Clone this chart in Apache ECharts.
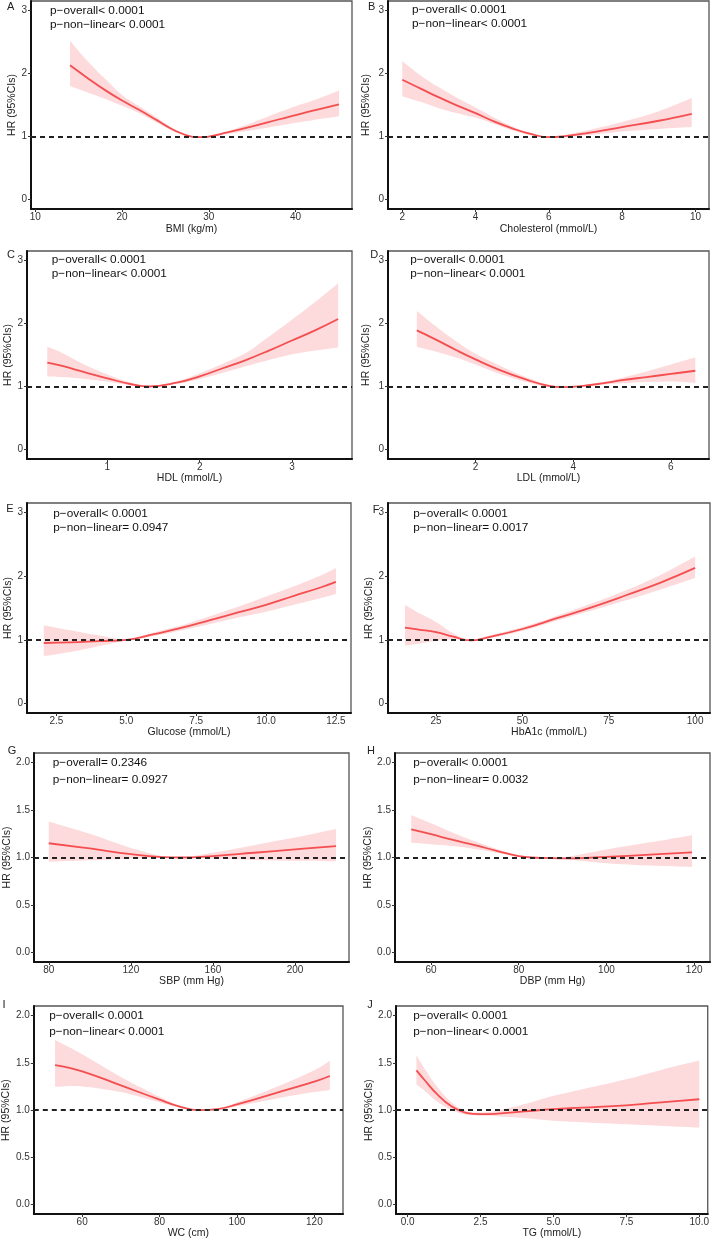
<!DOCTYPE html>
<html><head><meta charset="utf-8">
<script src="https://cdn.jsdelivr.net/npm/echarts@6/dist/echarts.min.js"></script>
<style>html,body{margin:0;padding:0;background:#fff}#c{width:712px;height:1240px}</style>
</head><body><div id="c"></div>
<script>
// ---------- DATA ----------
const panelLetters = ['A','B','C','D','E','F','G','H','I','J'];
const xTitles = ['BMI (kg/m)','Cholesterol (mmol/L)','HDL (mmol/L)','LDL (mmol/L)','Glucose (mmol/L)','HbA1c (mmol/L)','SBP (mm Hg)','DBP (mm Hg)','WC (cm)','TG (mmol/L)'];
const yTitle = 'HR (95%CIs)';
const pOverall = ['p−overall< 0.0001','p−overall< 0.0001','p−overall< 0.0001','p−overall< 0.0001','p−overall< 0.0001','p−overall< 0.0001','p−overall= 0.2346','p−overall< 0.0001','p−overall< 0.0001','p−overall< 0.0001'];
const pNonLinear = ['p−non−linear< 0.0001','p−non−linear< 0.0001','p−non−linear< 0.0001','p−non−linear< 0.0001','p−non−linear= 0.0947','p−non−linear= 0.0017','p−non−linear= 0.0927','p−non−linear= 0.0032','p−non−linear< 0.0001','p−non−linear< 0.0001'];
const xTicks = [[10,20,30,40],[2,4,6,8,10],[1,2,3],[2,4,6],[2.5,5,7.5,10,12.5],[25,50,75,100],[80,120,160,200],[60,80,100,120],[60,80,100,120],[0,2.5,5,7.5,10]];
const xTickDecimals = [0,0,0,0,1,0,0,0,0,1];
const yTicksWide = [0,1,2,3];
const yTicksNarrow = [0,0.5,1,1.5,2];
const refHR = 1;

// A: BMI
const xA  = [14, 16, 18, 20, 22, 24, 26, 28, 29, 30, 32, 35, 38, 40, 42, 45];
const hrA = [2.13,1.93,1.74,1.57,1.42,1.26,1.10,1.00,0.99,1.00,1.06,1.16,1.27,1.34,1.41,1.51];
const loA = [1.80,1.70,1.60,1.49,1.37,1.22,1.08,0.99,0.98,0.99,1.04,1.10,1.17,1.22,1.26,1.32];
const hiA = [2.52,2.20,1.92,1.66,1.48,1.30,1.12,1.01,1.00,1.01,1.08,1.22,1.38,1.48,1.57,1.73];
// B: Cholesterol
const xB  = [2, 2.5, 3, 3.5, 4, 4.5, 5, 5.5, 6, 6.5, 7, 8, 9, 9.9];
const hrB = [1.90,1.76,1.62,1.49,1.37,1.24,1.13,1.04,0.99,1.01,1.05,1.15,1.25,1.36];
const loB = [1.64,1.55,1.45,1.37,1.30,1.20,1.10,1.02,0.98,0.99,1.02,1.08,1.12,1.15];
const hiB = [2.20,1.97,1.78,1.61,1.46,1.30,1.16,1.06,1.00,1.03,1.09,1.23,1.40,1.61];
// C: HDL
const xC  = [0.35,0.5,0.75,1.0,1.25,1.45,1.75,2.0,2.25,2.5,2.75,3.0,3.25,3.5];
const hrC = [1.38,1.33,1.23,1.13,1.04,1.00,1.06,1.16,1.29,1.42,1.57,1.73,1.89,2.07];
const loC = [1.16,1.15,1.12,1.08,1.02,0.99,1.04,1.12,1.22,1.32,1.42,1.51,1.57,1.62];
const hiC = [1.63,1.54,1.35,1.19,1.06,1.01,1.08,1.21,1.36,1.53,1.79,2.06,2.34,2.64];
// D: LDL
const xD  = [0.8,1.2,1.6,2.0,2.5,3.0,3.5,3.8,4.2,4.6,5.0,5.5,6.0,6.5];
const hrD = [1.89,1.74,1.58,1.43,1.26,1.12,1.01,0.99,1.01,1.05,1.10,1.15,1.20,1.25];
const loD = [1.63,1.55,1.46,1.35,1.20,1.08,0.99,0.98,1.00,1.03,1.05,1.07,1.08,1.06];
const hiD = [2.20,1.95,1.72,1.52,1.33,1.16,1.03,1.00,1.02,1.07,1.14,1.24,1.35,1.46];
// E: Glucose
const xE  = [2.05,3,4,5,6,7,8,9,10,11,12,12.5];
const hrE = [0.95,0.96,0.98,1.00,1.09,1.19,1.31,1.43,1.55,1.69,1.83,1.91];
const loE = [0.745,0.81,0.90,0.99,1.06,1.15,1.25,1.35,1.44,1.55,1.66,1.72];
const hiE = [1.23,1.15,1.07,1.01,1.12,1.23,1.37,1.52,1.68,1.84,2.02,2.13];
// F: HbA1c
const xF  = [16,20,25,30,35,40,50,60,70,80,90,100];
const hrF = [1.19,1.16,1.12,1.05,0.99,1.04,1.17,1.34,1.51,1.70,1.90,2.13];
const loF = [0.91,0.94,0.98,1.01,0.98,1.02,1.14,1.30,1.46,1.62,1.79,1.97];
const hiF = [1.55,1.42,1.28,1.10,1.00,1.06,1.20,1.38,1.57,1.78,2.02,2.31];
// G: SBP
const xG  = [80,100,120,135,145,160,180,200,220];
const hrG = [1.15,1.095,1.035,1.005,1.0,1.015,1.05,1.085,1.12];
const loG = [0.955,0.97,0.99,0.998,0.998,0.99,0.975,0.965,0.96];
const hiG = [1.38,1.25,1.10,1.015,1.003,1.05,1.13,1.21,1.30];
// H: DBP
const xH  = [55.5,60,65,70,75,80,85,90,100,110,119.5];
const hrH = [1.295,1.245,1.185,1.13,1.07,1.015,0.995,0.99,1.007,1.03,1.053];
const loH = [1.155,1.14,1.12,1.09,1.05,1.005,0.99,0.985,0.94,0.915,0.90];
const hiH = [1.445,1.36,1.26,1.17,1.09,1.025,1.0,1.0,1.084,1.16,1.235];
// I: WC
const xI  = [53,60,70,80,85,90,95,100,110,120,124];
const hrI = [1.476,1.41,1.26,1.11,1.04,1.0,1.01,1.06,1.18,1.30,1.36];
const loI = [1.244,1.25,1.19,1.08,1.03,0.995,1.0,1.04,1.12,1.19,1.21];
const hiI = [1.74,1.59,1.35,1.14,1.05,1.005,1.02,1.08,1.24,1.42,1.52];
// J: TG
const xJ  = [0.3,0.6,1.0,1.5,2.0,2.5,3.0,4.0,5.0,6.0,7.5,9.0,10.0];
const hrJ = [1.42,1.31,1.17,1.04,0.97,0.956,0.96,0.985,1.01,1.025,1.05,1.09,1.114];
const loJ = [1.27,1.20,1.09,1.00,0.95,0.94,0.935,0.915,0.886,0.87,0.85,0.83,0.815];
const hiJ = [1.58,1.43,1.25,1.08,0.99,0.975,0.99,1.06,1.15,1.22,1.325,1.45,1.525];

const panels = [
  {x:xA,hr:hrA,lo:loA,hi:hiA},{x:xB,hr:hrB,lo:loB,hi:hiB},
  {x:xC,hr:hrC,lo:loC,hi:hiC},{x:xD,hr:hrD,lo:loD,hi:hiD},
  {x:xE,hr:hrE,lo:loE,hi:hiE},{x:xF,hr:hrF,lo:loF,hi:hiF},
  {x:xG,hr:hrG,lo:loG,hi:hiG},{x:xH,hr:hrH,lo:loH,hi:hiH},
  {x:xI,hr:hrI,lo:loI,hi:hiI},{x:xJ,hr:hrJ,lo:loJ,hi:hiJ}
];

// ---------- LAYOUT ----------
const layout = [
  {g:[31,1,321,208],   xr:[9.5,46.5],   xg:14.5, yg:13,   t:[50,10.7,25],        lab:[10.7,6.7]},
  {g:[388,1,321,208],  xr:[1.61,10.37], xg:14.5, yg:16,   t:[412,10,24],         lab:[371.7,6.7]},
  {g:[27,251,325,208], xr:[0.13,3.65],  xg:13.5, yg:9.5,  t:[51.7,260,274],      lab:[11,255.3]},
  {g:[388,251,321,208],xr:[0.21,6.78],  xg:13.5, yg:16,   t:[410.3,260,274],     lab:[374.3,254.7]},
  {g:[27,503,324,210], xr:[1.45,13.04], xg:13.4, yg:9.2,  t:[53.3,513.3,527.7],  lab:[10,509.3]},
  {g:[388,503,322,210],xr:[11.1,104.3], xg:12.5, yg:11.5, t:[413.3,513.3,527.7], lab:[376,510]},
  {g:[34,753,315,209], xr:[72.8,226.3], xg:13.5, yg:17.5, t:[52.7,763,780],      lab:[12,750.7]},
  {g:[395,753,315,209],xr:[51.8,123.6], xg:13.5, yg:18.2, t:[413.3,763,780],     lab:[371,750.7]},
  {g:[29,1006,314,210],xr:[47.5,127.4], xg:11,   yg:17.8, t:[49.3,1016,1031.3],  lab:[4,1004.7]},
  {g:[396,1006,312,210],xr:[-0.4,10.29],xg:11,   yg:19.2, t:[413.3,1016,1031.3], lab:[370,1005.3]}
];

const FONT = '"Liberation Sans", Arial, Helvetica, sans-serif';

// smooth (Catmull-Rom) path segment through pixel points
function crPath(pts, start) {
  let d = start ? 'M' + pts[0][0] + ',' + pts[0][1] : 'L' + pts[0][0] + ',' + pts[0][1];
  for (let k = 0; k < pts.length - 1; k++) {
    const p0 = pts[k - 1] || pts[k], p1 = pts[k], p2 = pts[k + 1], p3 = pts[k + 2] || pts[k + 1];
    const c1 = [p1[0] + (p2[0] - p0[0]) / 6, p1[1] + (p2[1] - p0[1]) / 6];
    const c2 = [p2[0] - (p3[0] - p1[0]) / 6, p2[1] - (p3[1] - p1[1]) / 6];
    d += 'C' + c1[0] + ',' + c1[1] + ' ' + c2[0] + ',' + c2[1] + ' ' + p2[0] + ',' + p2[1];
  }
  return d;
}

const option = {animation:false, backgroundColor:'#fff', grid:[], xAxis:[], yAxis:[], series:[], graphic:[]};

panels.forEach((p,i)=>{
  const L = layout[i];
  const wide = i < 6;
  const yt = wide ? yTicksWide : yTicksNarrow;
  const yr = wide ? [-0.15,3.15] : [-0.1,2.1];
  const yDec = wide ? 0 : 1;
  option.grid.push({left:L.g[0], top:L.g[1], width:L.g[2], height:L.g[3], show:true,
    borderColor:'#555', borderWidth:1.3, backgroundColor:'transparent'});
  option.xAxis.push({type:'value', gridIndex:i, min:L.xr[0], max:L.xr[1],
    axisLine:{show:true, onZero:false, lineStyle:{color:'#111', width:2}},
    axisTick:{show:true, customValues:xTicks[i], length:3, lineStyle:{color:'#333', width:1}},
    axisLabel:{customValues:xTicks[i], margin:3, fontSize:10, color:'#333', fontFamily:FONT,
      formatter:v=>Number(v).toFixed(xTickDecimals[i])},
    splitLine:{show:false},
    name:xTitles[i], nameLocation:'middle', nameGap:L.xg,
    nameTextStyle:{fontSize:10.5, color:'#222', fontFamily:FONT}});
  option.yAxis.push({type:'value', gridIndex:i, min:yr[0], max:yr[1],
    axisLine:{show:true, onZero:false, lineStyle:{color:'#111', width:2}},
    axisTick:{show:true, customValues:yt, length:3, lineStyle:{color:'#333', width:1}},
    axisLabel:{customValues:yt, margin:4, fontSize:10, color:'#333', fontFamily:FONT,
      formatter:v=>Number(v).toFixed(yDec)},
    splitLine:{show:false},
    name:yTitle, nameLocation:'middle', nameGap:L.yg,
    nameTextStyle:{fontSize:10.5, color:'#222', fontFamily:FONT}});
  // 95% CI ribbon (drawn through the axis scales with api.coord)
  option.series.push({type:'custom', xAxisIndex:i, yAxisIndex:i, silent:true, z:1, clip:true,
    data:p.x.map((x,k)=>[x,p.lo[k],p.hi[k]]),
    encode:{x:0, y:[1,2]},
    renderItem:(params, api)=>{
      if (params.dataIndex !== 0) return null;
      const n = params.dataInsideLength;
      const up = [], dn = [];
      for (let k = 0; k < n; k++) {
        up.push(api.coord([api.value(0,k), api.value(2,k)]));
        dn.push(api.coord([api.value(0,k), api.value(1,k)]));
      }
      dn.reverse();
      const d = crPath(up, true) + crPath(dn, false) + 'Z';
      return {type:'path', shape:{pathData:d}, style:{fill:'#FDDADB', stroke:null}};
    }});
  // HR line
  option.series.push({type:'line', xAxisIndex:i, yAxisIndex:i, symbol:'none', smooth:0.45, silent:true, z:3,
    data:p.x.map((x,k)=>[x,p.hr[k]]), lineStyle:{color:'#F44E50', width:1.8}});
  // reference line HR = 1
  option.series.push({type:'line', xAxisIndex:i, yAxisIndex:i, data:[], silent:true, z:4,
    markLine:{silent:true, symbol:'none', label:{show:false}, animation:false,
      lineStyle:{color:'#222', width:2, type:[5,4]}, data:[{yAxis:refHR}]}});
  option.graphic.push({type:'text', x:L.t[0], y:L.t[1], z:10,
    style:{text:pOverall[i], font:'11.8px '+FONT, fill:'#111', verticalAlign:'middle'}});
  option.graphic.push({type:'text', x:L.t[0], y:L.t[2], z:10,
    style:{text:pNonLinear[i], font:'11.8px '+FONT, fill:'#111', verticalAlign:'middle'}});
  option.graphic.push({type:'text', x:L.lab[0], y:L.lab[1], z:10,
    style:{text:panelLetters[i], font:'11px '+FONT, fill:'#222', align:'center', verticalAlign:'middle'}});
});

const chart = echarts.init(document.getElementById('c'), null, {renderer:'canvas'});
chart.setOption(option);
</script></body></html>
